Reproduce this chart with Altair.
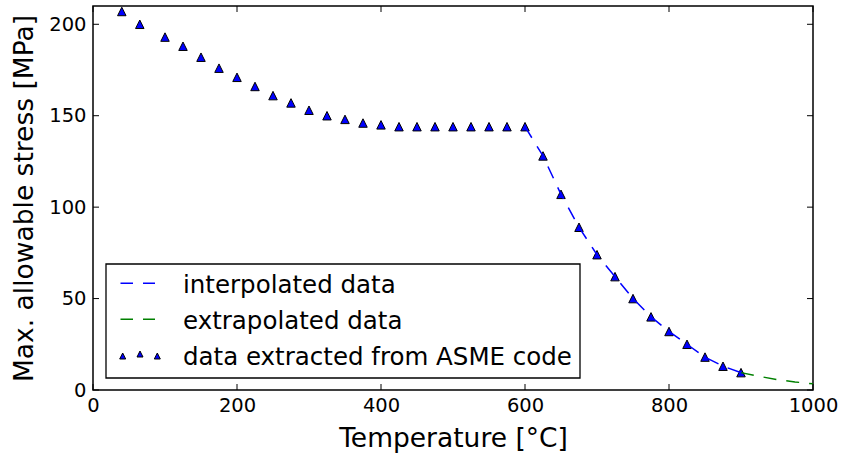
import altair as alt
import pandas as pd

# ---- data ----
temps = [40, 65, 100, 125, 150, 175, 200, 225, 250, 275, 300, 325, 350, 375, 400,
         425, 450, 475, 500, 525, 550, 575, 600, 625, 650, 675, 700, 725, 750, 775,
         800, 825, 850, 875, 900]
stress = [207, 200, 193, 188, 182, 176, 171, 166, 161, 157, 153, 150, 148, 146, 145,
          144, 144, 144, 144, 144, 144, 144, 144, 128, 107, 89, 74, 62, 50, 40,
          32, 25, 18, 13, 9.5]
interp_temps = [600, 625, 650, 675, 700, 725, 750, 775, 800, 825, 850, 875, 900]
interp_stress = [144, 128, 107, 89, 74, 62, 50, 40, 32, 25, 18, 13, 9.5]
extrap_temps = [900, 925, 950, 975, 1000]
extrap_stress = [9.5, 7.5, 5.7, 4.4, 3.4]
x_ticks = [0, 200, 400, 600, 800, 1000]
y_ticks = [0, 50, 100, 150, 200]
legend_labels = ["interpolated data", "extrapolated data", "data extracted from ASME code"]

W, H = 720, 384
FONT = "DejaVu Sans"
TRI = "M0,-1L-1,1L1,1Z"

pts = pd.DataFrame({"T": temps, "S": stress})
interp = pd.DataFrame({"T": interp_temps, "S": interp_stress})
extrap = pd.DataFrame({"T": extrap_temps, "S": extrap_stress})
xt = pd.DataFrame({"T": x_ticks})
yt = pd.DataFrame({"S": y_ticks})

xs = alt.Scale(domain=[0, 1000], nice=False, zero=False)
ys = alt.Scale(domain=[0, 210], nice=False, zero=False)

x_axis = alt.Axis(values=x_ticks, title="Temperature [°C]", labelFlush=False, format="d",
                  labelPadding=6, titlePadding=11)
y_axis = alt.Axis(values=y_ticks, title="Max. allowable stress [MPa]", format="d",
                  labelPadding=7, titlePadding=10)

points = alt.Chart(pts).mark_point(shape=TRI, size=72, filled=True, fill="#0000ff",
                                   stroke="black", strokeWidth=1, opacity=1).encode(
    x=alt.X("T:Q", scale=xs, axis=x_axis),
    y=alt.Y("S:Q", scale=ys, axis=y_axis),
)
line_i = alt.Chart(interp).mark_line(color="#0000ff", strokeDash=[13, 10], strokeWidth=1.5).encode(
    x=alt.X("T:Q", scale=xs),
    y=alt.Y("S:Q", scale=ys),
)
line_e = alt.Chart(extrap).mark_line(color="#008000", strokeDash=[13, 10], strokeWidth=1.5).encode(
    x=alt.X("T:Q", scale=xs),
    y=alt.Y("S:Q", scale=ys),
)

tick_style = dict(color="black", strokeWidth=1)
t_bottom = alt.Chart(xt).mark_rule(**tick_style).encode(
    x=alt.X("T:Q", scale=xs), y=alt.value(H), y2=alt.value(H - 6))
t_top = alt.Chart(xt).mark_rule(**tick_style).encode(
    x=alt.X("T:Q", scale=xs), y=alt.value(0), y2=alt.value(6))
t_left = alt.Chart(yt).mark_rule(**tick_style).encode(
    y=alt.Y("S:Q", scale=ys), x=alt.value(0), x2=alt.value(6))
t_right = alt.Chart(yt).mark_rule(**tick_style).encode(
    y=alt.Y("S:Q", scale=ys), x=alt.value(W), x2=alt.value(W - 6))

one = alt.Data(values=[{"k": 1}])
legend_box = alt.Chart(one).mark_rect(fill="white", stroke="black", strokeWidth=1.3).encode(
    x=alt.value(13), x2=alt.value(487), y=alt.value(258), y2=alt.value(372))

leg_layers = [legend_box]
row_base = [287, 322.8, 358.6]
dash_colors = ["#0000ff", "#008000"]
dash_y = [277.3, 313.3]
for c, yy in zip(dash_colors, dash_y):
    leg_layers.append(alt.Chart(one).mark_rule(color=c, strokeDash=[12.5, 10], strokeWidth=1.5).encode(
        x=alt.value(27.5), x2=alt.value(62), y=alt.value(yy)))
for xx, yy in zip([29.7, 47, 64.3], [350, 348, 350]):
    leg_layers.append(alt.Chart(one).mark_point(shape=TRI, size=36, filled=True, fill="#0000ff",
                                                stroke="black", strokeWidth=1, opacity=1).encode(
        x=alt.value(xx), y=alt.value(yy)))
for lab, yy in zip(legend_labels, row_base):
    leg_layers.append(alt.Chart(one).mark_text(text=lab, align="left", baseline="alphabetic",
                                               fontSize=24.5, font=FONT, color="black").encode(
        x=alt.value(90), y=alt.value(yy)))

chart = alt.layer(points, line_i, line_e, t_bottom, t_top, t_left, t_right, *leg_layers).properties(
    width=W, height=H,
    autosize=alt.AutoSizeParams(type="none"),
    padding={"left": 93, "top": 6, "right": 29, "bottom": 65},
).configure(font=FONT).configure_view(stroke="black", strokeWidth=1.5).configure_axis(
    domain=False, ticks=False, grid=False,
    labelFontSize=19.5, labelColor="black", labelFont=FONT,
    titleFontSize=26.5, titleFontWeight="normal", titleColor="black", titleFont=FONT,
)

chart.save("out.html", embed_options={"renderer": "svg", "actions": False})
